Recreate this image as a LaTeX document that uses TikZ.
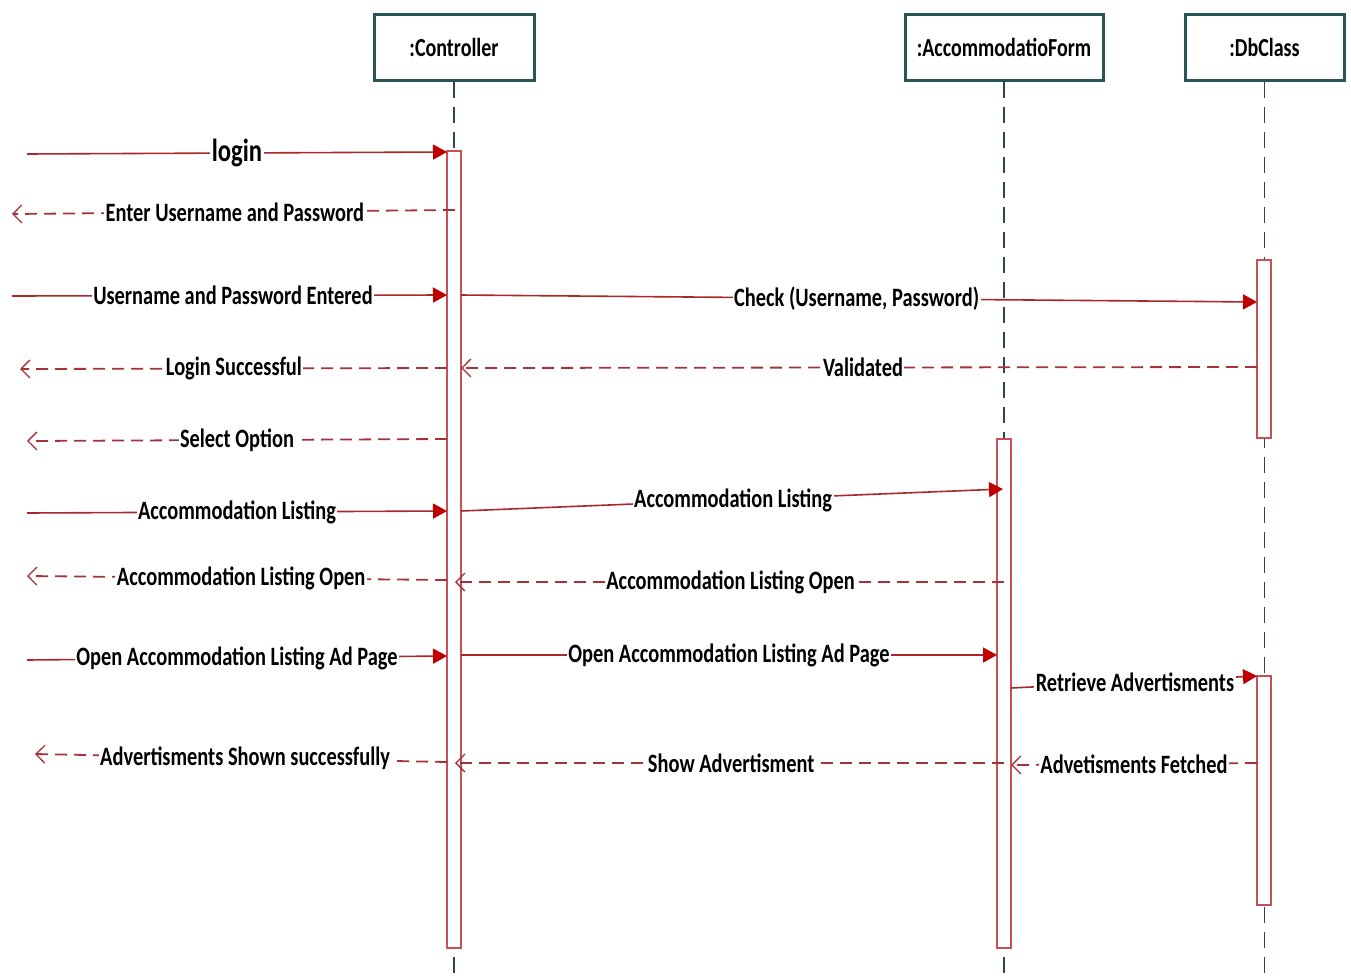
\documentclass[tikz,border=0pt]{standalone}
\usepackage{fontspec}
\usetikzlibrary{arrows.meta}
\newfontfamily\seqfont[FakeStretch=0.77]{Carlito}

\definecolor{msgline}{RGB}{170,40,45}
\definecolor{tipred}{RGB}{192,0,0}
\definecolor{retline}{RGB}{165,50,55}
\definecolor{actline}{RGB}{200,80,85}
\definecolor{headline}{RGB}{40,85,85}
\definecolor{lifeline}{RGB}{45,70,75}

\tikzset{
  head/.style={draw=headline, line width=3pt, fill=white, minimum height=66pt,
    inner sep=0pt, font=\seqfont\fontsize{26}{28}\selectfont\bfseries},
  life/.style={draw=lifeline, line width=1.5pt, dash pattern=on 16pt off 9pt},
  act/.style={draw=actline, line width=1.3pt, fill=white, minimum width=14pt,
    inner sep=0pt},
  call/.style={draw=msgline, line width=1.6pt,
    -{Triangle[length=14pt,width=15pt,fill=tipred,color=tipred]}},
  reply/.style={draw=retline, line width=1.8pt, dash pattern=on 12pt off 7pt,
    -{Straight Barb[length=9pt,width=18pt,line width=1.3pt]}},
  lab/.style={fill=white, inner sep=1.5pt, text=black,
    font=\seqfont\fontsize{26.5}{28}\selectfont\bfseries},
  biglab/.style={lab, font=\seqfont\fontsize{32}{34}\selectfont\bfseries}
}

\begin{document}
\begin{tikzpicture}[x=1pt,y=-1pt]
\useasboundingbox (0,0) rectangle (1351,977);

% object headers
\node[head, minimum width=160pt] (ctl) at (454,47) {:Controller};
\node[head, minimum width=198pt] (frm) at (1004,47) {:AccommodatioForm};
\node[head, minimum width=159pt] (dbc) at (1264.5,47) {:DbClass};

% lifeline ends
\coordinate (ctlEnd) at (454,977);
\coordinate (frmEnd) at (1004,977);
\coordinate (dbcEnd) at (1264.5,977);

\draw[life] (ctl.south) -- (ctlEnd);
\draw[life] (frm.south) -- (frmEnd);
\draw[life] (dbc.south) -- (dbcEnd);

% activation bars
\node[act, minimum height=797pt] (actC) at (454,549.5) {};
\node[act, minimum height=509pt] (actF) at (1004,693.5) {};
\node[act, minimum height=178pt] (actD1) at (1264,349) {};
\node[act, minimum height=229pt] (actD2) at (1264,790.5) {};

% message end points
\coordinate (a1) at (27,154);    \coordinate (b1) at (447,152);
\coordinate (a2) at (455,210);   \coordinate (b2) at (12,214);
\coordinate (a3) at (12,296);    \coordinate (b3) at (447,295);
\coordinate (a4) at (461,295);   \coordinate (b4) at (1257,302);
\coordinate (a5) at (1257,367);  \coordinate (b5) at (461,368);
\coordinate (a6) at (447,368);   \coordinate (b6) at (20,369);
\coordinate (a7) at (447,439);   \coordinate (b7) at (27,441);
\coordinate (a8) at (27,513);    \coordinate (b8) at (447,511);
\coordinate (a9) at (461,511);   \coordinate (b9) at (1003,489);
\coordinate (a10) at (1004,582); \coordinate (b10) at (455,582);
\coordinate (a11) at (447,580);  \coordinate (b11) at (27,576);
\coordinate (a12) at (27,660);   \coordinate (b12) at (447,656);
\coordinate (a13) at (461,655);  \coordinate (b13) at (997,655);
\coordinate (a14) at (1011,688); \coordinate (b14) at (1257,676);
\coordinate (a15) at (1257,763); \coordinate (b15) at (1011,765);
\coordinate (a16) at (1004,763); \coordinate (b16) at (455,763);
\coordinate (a17) at (447,762);  \coordinate (b17) at (35,754);

% messages
\draw[call]  (a1) -- node[biglab, pos=0.5] {login} (b1);
\draw[reply] (a2) -- node[lab, pos=0.497] {Enter Username and Password} (b2);
\draw[call]  (a3) -- node[lab, pos=0.508] {Username and Password Entered} (b3);
\draw[call]  (a4) -- node[lab, pos=0.497] {Check (Username, Password)} (b4);
\draw[reply] (a5) -- node[lab, pos=0.495] {Validated} (b5);
\draw[reply] (a6) -- node[lab, pos=0.499] {Login Successful} (b6);
\draw[reply] (a7) -- node[lab, pos=0.5] {Select Option} (b7);
\draw[call]  (a8) -- node[lab, pos=0.5] {Accommodation Listing} (b8);
\draw[call]  (a9) -- node[lab, pos=0.502] {Accommodation Listing} (b9);
\draw[reply] (a10) -- node[lab, pos=0.498] {Accommodation Listing Open} (b10);
\draw[reply] (a11) -- node[lab, pos=0.49] {Accommodation Listing Open} (b11);
\draw[call]  (a12) -- node[lab, pos=0.5] {Open Accommodation Listing Ad Page} (b12);
\draw[call]  (a13) -- node[lab, pos=0.5] {Open Accommodation Listing Ad Page} (b13);
\draw[call]  (a14) -- node[lab, pos=0.504] {Retrieve Advertisments} (b14);
\draw[reply] (a15) -- node[lab, pos=0.5] {Advetisments Fetched} (b15);
\draw[reply] (a16) -- node[lab, pos=0.497] {Show Advertisment} (b16);
\draw[reply] (a17) -- node[lab, pos=0.49] {Advertisments Shown successfully} (b17);
\end{tikzpicture}
\end{document}
